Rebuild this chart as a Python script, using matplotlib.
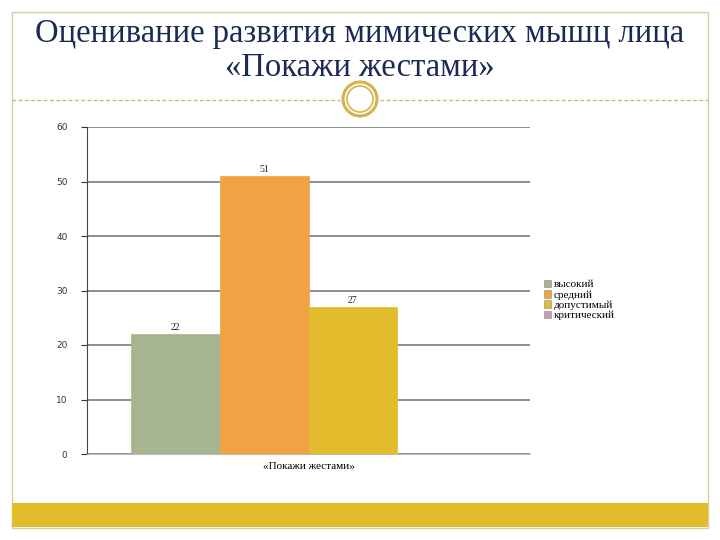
import matplotlib

matplotlib.use("Agg")
import matplotlib.pyplot as plt
from matplotlib.patches import Rectangle, Ellipse, Patch

TITLE = "Оценивание развития мимических мышц лица\n«Покажи жестами»"
CATEGORY = "«Покажи жестами»"
SERIES = ["высокий", "средний", "допустимый", "критический"]
VALUES = [22, 51, 27, 0]
COLORS = ["#a6b491", "#f0a244", "#e2bc2c", "#c99ab5"]
YTICKS = [0, 10, 20, 30, 40, 50, 60]

fig = plt.figure(figsize=(7.2, 5.4), dpi=100)
fig.patch.set_facecolor("white")

# slide decoration, placed in pixel units of the 720x540 slide
W, H = 720, 540


def px(x, y):
    return x / W, 1 - y / H


frame = Rectangle(px(12, 528), (708 - 12) / W, (528 - 12) / H, transform=fig.transFigure,
                  fill=False, edgecolor="#d8cf9a", linewidth=1.0)
fig.add_artist(frame)
gold = Rectangle(px(12, 527), (708 - 12) / W, 24 / H, transform=fig.transFigure,
                 facecolor="#e3bc2b", edgecolor="none")
fig.add_artist(gold)
for x0, x1 in [(12, 340), (380, 708)]:
    fig.add_artist(plt.Line2D([x0 / W, x1 / W], [1 - 100 / H] * 2, transform=fig.transFigure,
                              color="#b9bf63", linestyle=(0, (3, 2)), linewidth=0.9))
for r, lw in [(17, 2.2), (13, 1.2)]:
    fig.add_artist(Ellipse(px(360, 99), 2 * r / W, 2 * r / H, transform=fig.transFigure,
                           fill=False, edgecolor="#d7b24a", linewidth=lw))

fig.text(0.5, 1 - 51 / H, TITLE, ha="center", va="center", fontsize=23.5,
         family="Liberation Serif", color="#1a2a55", linespacing=1.14)

ax = fig.add_axes([87 / W, 1 - 454 / H, (530 - 87) / W, (454 - 127) / H])
width = 0.2
n = len(SERIES)
for i, (name, val, col) in enumerate(zip(SERIES, VALUES, COLORS)):
    xpos = (i - (n - 1) / 2) * width
    ax.bar(xpos, val, width=width, color=col, edgecolor=col, linewidth=0.5, label=name, zorder=3)
    if val > 0:
        ax.text(xpos, val + 0.4, str(val), ha="center", va="bottom", fontsize=7,
                family="Liberation Serif", color="#222222", zorder=4)

ax.set_xlim(-0.5, 0.5)
ax.set_ylim(0, 60)
ax.set_yticks(YTICKS)
ax.set_yticklabels([str(t) for t in YTICKS], fontsize=6.5, family="DejaVu Sans", color="#333333")
ax.tick_params(axis="y", length=4, width=0.8, color="#333333", pad=10)
ax.set_xticks([0])
ax.set_xticklabels([CATEGORY], fontsize=8, family="Liberation Serif")
ax.tick_params(axis="x", length=0, pad=6)
ax.grid(axis="y", color="#7a7a7a", linewidth=1.2, zorder=0)
for s in ["top", "right"]:
    ax.spines[s].set_visible(False)
ax.spines["left"].set_color("#444444")
ax.spines["bottom"].set_color("#bbbbbb")

handles = [Patch(facecolor=c, edgecolor="#888888", linewidth=0.4, label=s) for s, c in zip(SERIES, COLORS)]
fig.legend(handles=handles, loc="upper left", bbox_to_anchor=(538 / W, 1 - 274 / H), frameon=False,
           prop={"family": "Liberation Serif", "size": 8}, handlelength=0.7, handleheight=0.7,
           handletextpad=0.2, labelspacing=0.05, borderpad=0)

fig.savefig("out.png", dpi=100)
